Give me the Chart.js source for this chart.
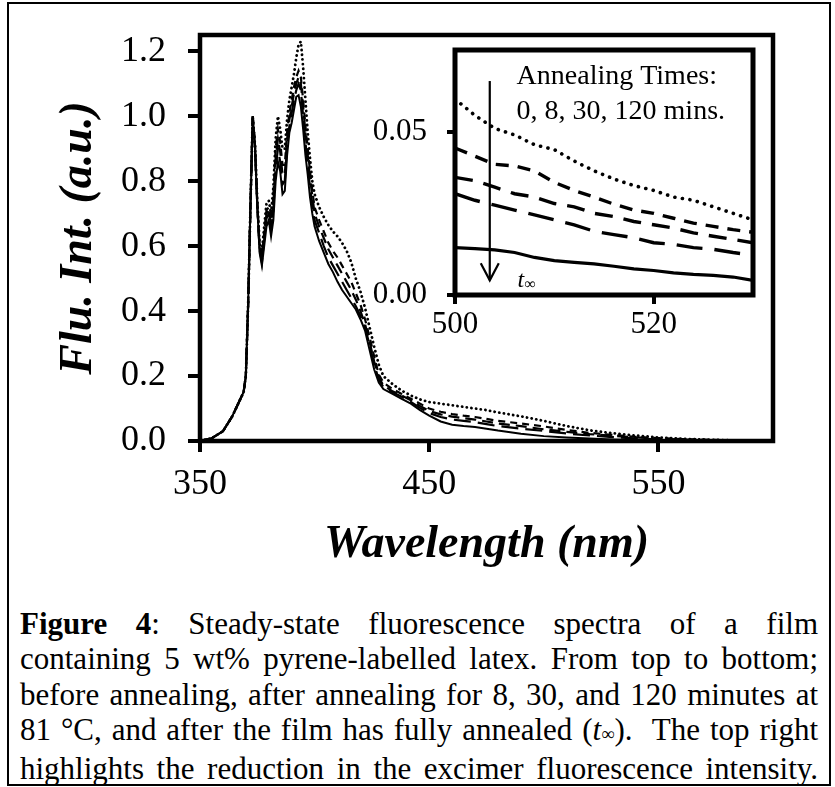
<!DOCTYPE html>
<html><head><meta charset="utf-8">
<script src="https://cdn.jsdelivr.net/npm/chart.js@4.4.0/dist/chart.umd.min.js"></script>
<style>
html,body{margin:0;padding:0;background:#fff;}
#page{position:relative;width:835px;height:787px;overflow:hidden;font-family:"Liberation Serif","Times New Roman",serif;color:#000;}
#frame{position:absolute;left:7px;top:2px;width:820px;height:780px;border:2px solid #000;}
#mainCanvas{position:absolute;left:0;top:0;}
#insetCanvas{position:absolute;left:360px;top:30px;}
#caption{position:absolute;left:20px;top:606px;width:798px;font-size:31px;line-height:35.3px;}
.ln{text-align:justify;text-align-last:justify;}
.sub{font-size:0.6em;}
</style></head>
<body>
<div id="page">
  <div id="frame"></div>
  <canvas id="mainCanvas" width="835" height="600"></canvas>
  <canvas id="insetCanvas" width="410" height="330"></canvas>
  <div id="caption">
    <div class="ln"><b>Figure 4</b>: Steady-state fluorescence spectra of a film</div>
    <div class="ln">containing 5 wt% pyrene-labelled latex. From top to bottom;</div>
    <div class="ln">before annealing, after annealing for 8, 30, and 120 minutes at</div>
    <div class="ln">81 °C, and after the film has fully annealed (<i>t</i><span class="sub">∞</span>).&nbsp; The top right</div>
    <div class="ln">highlights the reduction in the excimer fluorescence intensity.</div>
  </div>
</div>
<script>
// ---------- Main spectra data ----------
const wavelengths = [350,355,360,364,367,369,
  370,371,372,373,374,375,376,377,378,379,380,381,382,383,384,385,386,387,388,389,390,391,392,393,394,395,396,397,398,399,400,
  402,404,406,408,410,412,414,416,418,420,422,424,426,428,430,
  434,438,442,446,450,
  455,460,465,470,475,480,
  490,500,510,520,530,540,550,560,570,580,590,600];

const int0min = [0,0.008,0.03,0.075,0.12,0.15,
  0.20,0.42,0.72,1.0,0.91,0.74,0.61,0.58,0.66,0.73,0.74,0.70,0.78,0.93,1.00,0.96,0.90,0.90,0.99,1.05,1.09,1.13,1.18,1.22,1.23,1.15,1.05,0.95,0.87,0.80,0.76,
  0.72,0.69,0.665,0.645,0.63,0.61,0.585,0.55,0.50,0.46,0.41,0.35,0.29,0.235,0.20,
  0.175,0.155,0.14,0.128,0.12,
  0.115,0.11,0.105,0.10,0.095,0.088,
  0.076,0.062,0.046,0.033,0.024,0.017,0.011,0.007,0.0045,0.0025,0.0012,0];

const int8min = [0,0.008,0.03,0.075,0.12,0.15,
  0.20,0.42,0.72,1.0,0.91,0.73,0.60,0.57,0.64,0.71,0.72,0.68,0.75,0.90,0.96,0.92,0.85,0.85,0.95,1.01,1.05,1.09,1.12,1.14,1.12,1.05,0.97,0.90,0.83,0.77,0.72,
  0.68,0.645,0.61,0.585,0.565,0.54,0.515,0.49,0.455,0.42,0.375,0.32,0.26,0.205,0.18,
  0.16,0.145,0.13,0.115,0.10,
  0.09,0.083,0.078,0.074,0.068,0.062,
  0.054,0.045,0.034,0.025,0.019,0.013,0.009,0.006,0.004,0.002,0.001,0];

const int30min = [0,0.008,0.03,0.075,0.12,0.15,
  0.20,0.42,0.72,1.0,0.91,0.73,0.595,0.56,0.63,0.70,0.71,0.665,0.73,0.87,0.93,0.89,0.82,0.82,0.93,0.99,1.03,1.07,1.10,1.12,1.10,1.03,0.95,0.88,0.81,0.755,0.70,
  0.66,0.625,0.59,0.565,0.54,0.515,0.49,0.465,0.435,0.40,0.36,0.305,0.245,0.195,0.172,
  0.153,0.14,0.125,0.108,0.092,
  0.082,0.075,0.07,0.066,0.06,0.054,
  0.046,0.036,0.028,0.021,0.016,0.011,0.007,0.005,0.003,0.0015,0.001,0];

const int120min = [0,0.008,0.03,0.075,0.12,0.15,
  0.20,0.42,0.72,1.0,0.91,0.725,0.59,0.55,0.62,0.685,0.70,0.65,0.71,0.84,0.90,0.86,0.79,0.80,0.91,0.97,1.01,1.05,1.08,1.10,1.08,1.00,0.92,0.85,0.78,0.73,0.68,
  0.64,0.60,0.565,0.54,0.515,0.49,0.465,0.44,0.415,0.385,0.35,0.295,0.235,0.19,0.166,
  0.15,0.136,0.12,0.102,0.086,
  0.074,0.066,0.062,0.058,0.052,0.046,
  0.038,0.031,0.023,0.017,0.012,0.008,0.005,0.0035,0.002,0.001,0.0005,0];

const intFull = [0,0.008,0.03,0.075,0.12,0.15,
  0.20,0.42,0.72,1.0,0.90,0.72,0.58,0.54,0.60,0.66,0.68,0.63,0.68,0.80,0.86,0.83,0.76,0.77,0.88,0.95,0.98,1.02,1.06,1.065,1.03,0.96,0.88,0.82,0.75,0.70,0.66,
  0.615,0.58,0.545,0.52,0.49,0.465,0.445,0.425,0.405,0.375,0.34,0.28,0.22,0.18,0.16,
  0.145,0.13,0.115,0.095,0.078,
  0.060,0.050,0.046,0.043,0.038,0.032,
  0.022,0.015,0.0105,0.0075,0.005,0.003,0.002,0.001,0.0007,0.0004,0.0002,0];

const xTickValues = [350,450,550];
const yTickValues = [0,0.2,0.4,0.6,0.8,1.0,1.2];

// ---------- Inset data ----------
const insetWavelengths = [500,502,504,506,508,510,512,514,516,518,520,522,524,526,528,530];
const inset0min   = [0.060,0.055,0.051,0.049,0.046,0.0445,0.041,0.038,0.0355,0.0335,0.032,0.030,0.029,0.027,0.025,0.023];
const inset8min   = [0.045,0.0425,0.040,0.0395,0.038,0.0345,0.032,0.030,0.0278,0.026,0.025,0.0235,0.022,0.021,0.020,0.0192];
const inset30min  = [0.036,0.035,0.033,0.031,0.030,0.028,0.027,0.025,0.024,0.0225,0.0215,0.0205,0.019,0.018,0.017,0.016];
const inset120min = [0.031,0.029,0.0275,0.026,0.0245,0.023,0.0215,0.0195,0.0185,0.0175,0.016,0.0155,0.0145,0.014,0.013,0.0122];
const insetFull   = [0.0145,0.0142,0.0138,0.013,0.0115,0.0105,0.010,0.0095,0.0088,0.008,0.0075,0.0068,0.0063,0.006,0.0055,0.0045];
const insetXTicks = [500,520];
const insetYTicks = [0,0.05];

const FONT = '"Liberation Serif","Times New Roman",serif';

const styles = [
  {dash:[0.1,4.6], cap:'round', w:2.8},   // 0 min dotted
  {dash:[7,5], cap:'butt', w:2.2},        // 8 min
  {dash:[11,6], cap:'butt', w:2.2},       // 30 min
  {dash:[17,7], cap:'butt', w:2.2},       // 120 min
  {dash:[], cap:'butt', w:2.0}            // full
];
const insetStyles = [
  {dash:[0.1,7.5], cap:'round', w:3.6},
  {dash:[13,9], cap:'butt', w:3.4},
  {dash:[18,11], cap:'butt', w:3.4},
  {dash:[26,12], cap:'butt', w:3.4},
  {dash:[], cap:'butt', w:3.2}
];

function makeSets(xs, series, st){
  return series.map((arr,i)=>({
    data: xs.map((x,j)=>({x:x, y:arr[j]})),
    borderColor:'#000', borderWidth:st[i].w, borderDash:st[i].dash, borderCapStyle:st[i].cap,
    pointRadius:0, fill:false, tension:0
  }));
}

const boxPlugin = {
  id:'box',
  beforeDatasetsDraw(chart, args, opts){
    if(opts.fill){ const a=chart.chartArea; chart.ctx.save(); chart.ctx.fillStyle='#fff'; chart.ctx.fillRect(a.left,a.top,a.right-a.left,a.bottom-a.top); chart.ctx.restore(); }
  },
  afterDraw(chart, args, opts){
    const {ctx, chartArea:a} = chart;
    ctx.save(); ctx.strokeStyle='#000'; ctx.lineWidth=opts.width; ctx.lineJoin='miter';
    ctx.strokeRect(a.left, a.top, a.right-a.left, a.bottom-a.top);
    ctx.restore();
  }
};

function noPad(s){ s.paddingTop=0; s.paddingBottom=0; s.paddingLeft=0; s.paddingRight=0; }

function axisCommon(size, tickLen, pad){
  return {
    ticks:{font:{family:FONT,size:size}, color:'#000', padding:pad, maxRotation:0, autoSkip:false},
    grid:{display:true, drawOnChartArea:false, drawTicks:true, tickLength:tickLen, lineWidth:4, color:'#000'},
    border:{display:true, color:'#000', width:4}
  };
}

// ---------- Main chart ----------
const mx = axisCommon(36, 11, 11);
const my = axisCommon(36, 12, 22);
new Chart(document.getElementById('mainCanvas'), {
  type:'line',
  data:{datasets: makeSets(wavelengths, [int0min,int8min,int30min,int120min,intFull], styles)},
  options:{
    responsive:false, animation:false, devicePixelRatio:1,
    layout:{padding:{left:0, top:35, right:62, bottom:0}},
    plugins:{legend:{display:false}, tooltip:{enabled:false}, box:{width:4.5}},
    scales:{
      x:Object.assign({type:'linear', min:350, max:600,
        afterBuildTicks:s=>{s.ticks = xTickValues.map(v=>({value:v}));},
        afterFit:s=>{s.height = 159; noPad(s);},
        title:{display:true, text:'Wavelength (nm)', color:'#000', font:{family:FONT,size:46,weight:'bold',style:'italic'}, padding:{top:0,bottom:27}}
      }, mx, {ticks:Object.assign({}, mx.ticks, {callback:v=>String(v)})}),
      y:Object.assign({type:'linear', min:0, max:1.25,
        afterBuildTicks:s=>{s.ticks = yTickValues.map(v=>({value:v}));},
        afterFit:s=>{s.width = 200; noPad(s);},
        title:{display:true, text:'Flu. Int. (a.u.)', color:'#000', font:{family:FONT,size:46,weight:'bold',style:'italic'}, padding:{top:52,bottom:0}}
      }, my, {ticks:Object.assign({}, my.ticks, {callback:v=>Number(v).toFixed(1)})})
    }
  },
  plugins:[boxPlugin]
});

// ---------- Inset chart ----------
const insetNotes = {
  id:'insetNotes',
  afterDatasetsDraw(chart, args, o){
    const {ctx, scales:{x,y}} = chart;
    ctx.save();
    ctx.fillStyle='#000'; ctx.strokeStyle='#000';
    const ax = x.getPixelForValue(o.arrowX), y0 = y.getPixelForValue(o.arrowTop), y1 = y.getPixelForValue(o.arrowBottom);
    ctx.lineWidth = 2.2; ctx.lineCap='butt';
    ctx.beginPath(); ctx.moveTo(ax,y0); ctx.lineTo(ax,y1); ctx.stroke();
    ctx.beginPath(); ctx.moveTo(ax-9,y1-17); ctx.lineTo(ax,y1); ctx.lineTo(ax+9,y1-17); ctx.stroke();
    ctx.font = '28px '+FONT; ctx.textAlign='left'; ctx.textBaseline='alphabetic';
    const tx = x.getPixelForValue(o.textX);
    ctx.fillText('Annealing Times:', tx, y.getPixelForValue(o.line1Y));
    ctx.fillText('0, 8, 30, 120 mins.', tx, y.getPixelForValue(o.line2Y));
    ctx.font = 'italic 24px '+FONT;
    const ty = y.getPixelForValue(o.tY);
    ctx.fillText('t', tx+1, ty);
    ctx.font = '16px '+FONT;
    ctx.fillText('∞', tx+8, ty+2);
    ctx.restore();
  }
};
const ix = axisCommon(31, 9, 2);
const iy = axisCommon(31, 8, 20);
new Chart(document.getElementById('insetCanvas'), {
  type:'line',
  data:{datasets: makeSets(insetWavelengths, [inset0min,inset8min,inset30min,inset120min,insetFull], insetStyles)},
  options:{
    responsive:false, animation:false, devicePixelRatio:1,
    layout:{padding:{left:0, top:20, right:17, bottom:0}},
    plugins:{legend:{display:false}, tooltip:{enabled:false}, box:{width:5, fill:true},
      insetNotes:{arrowX:503.5, arrowTop:0.0655, arrowBottom:0.0045, textX:506.2, line1Y:0.0645, line2Y:0.054, tY:0.0026}},
    scales:{
      x:Object.assign({type:'linear', min:500, max:530,
        afterBuildTicks:s=>{s.ticks = insetXTicks.map(v=>({value:v}));},
        afterFit:s=>{s.height = 65; noPad(s);}
      }, ix, {ticks:Object.assign({}, ix.ticks, {callback:v=>String(v)})}),
      y:Object.assign({type:'linear', min:0, max:0.075,
        afterBuildTicks:s=>{s.ticks = insetYTicks.map(v=>({value:v}));},
        afterFit:s=>{s.width = 95; noPad(s);}
      }, iy, {ticks:Object.assign({}, iy.ticks, {callback:v=>Number(v).toFixed(2)})})
    }
  },
  plugins:[boxPlugin, insetNotes]
});
</script>
</body></html>
